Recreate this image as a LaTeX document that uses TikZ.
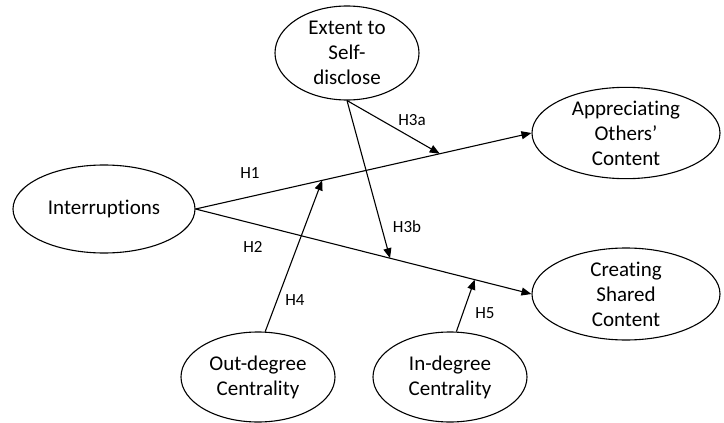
\documentclass[tikz,border=0pt]{standalone}
\usepackage{fontspec}
\setmainfont{Carlito}[RawFeature={-liga;-clig}]
\usetikzlibrary{shapes.geometric,arrows.meta}
\begin{document}
\begin{tikzpicture}[x=1pt,y=-1pt,
  var/.style={draw,ellipse,line width=1.1pt,inner sep=0pt,align=center,
    font=\fontsize{21}{25}\selectfont},
  conn/.style={line width=1.1pt,-{Triangle[length=10pt,width=8pt]}},
  hlab/.style={font=\fontsize{17}{20}\selectfont,inner sep=0pt}]
\useasboundingbox (0,0) rectangle (724,423);
\node[var,minimum width=182pt,minimum height=88pt] (int) at (104,209) {Interruptions};
\node[var,minimum width=144pt,minimum height=94pt] (ext) at (347,53) {Extent to\\Self-\\disclose};
\node[var,minimum width=188pt,minimum height=90pt] (app) at (626,133) {Appreciating\\Others’\\Content};
\node[var,minimum width=188pt,minimum height=92pt] (cre) at (626,294) {Creating\\Shared\\Content};
\node[var,minimum width=154pt,minimum height=90pt] (out) at (258,377) {Out-degree\\Centrality};
\node[var,minimum width=154pt,minimum height=90pt] (in) at (450,377) {In-degree\\Centrality};
\draw[conn] (int.east) -- (app.west)
  coordinate[pos=0.377] (t4) coordinate[pos=0.727] (t3a);
\draw[conn] (int.east) -- (cre.west)
  coordinate[pos=0.579] (t3b) coordinate[pos=0.831] (t5);
\draw[conn] (ext.south) -- (t3a);
\draw[conn] (ext.south) -- (t3b);
\draw[conn] (out.81) -- (t4);
\draw[conn] (in.82) -- (t5);
\node[hlab] (h1) at (250,173) {H1};
\node[hlab] (h2) at (253,247) {H2};
\node[hlab] (h3a) at (412,120) {H3a};
\node[hlab] (h3b) at (407,227) {H3b};
\node[hlab] (h4) at (295,300) {H4};
\node[hlab] (h5) at (485,313) {H5};
\end{tikzpicture}
\end{document}
